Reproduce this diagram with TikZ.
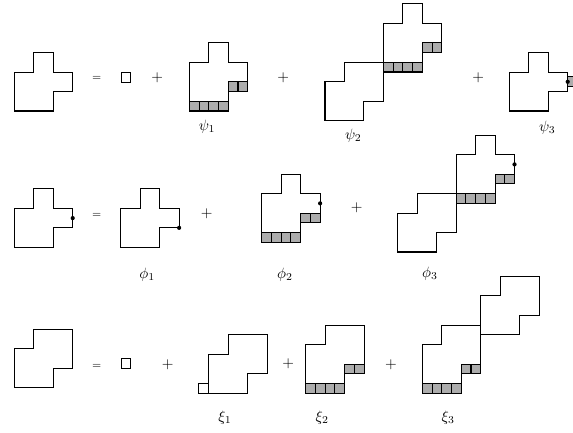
\documentclass[tikz,border=0pt]{standalone}
\usepackage{amsmath,amssymb}
\usepackage{tikz}
\usetikzlibrary{calc}

\newcommand{\cellsz}{6.49pt} % 小方格边长

\tikzset{
  poly/.style={draw=black, line width=0.7pt},
  greycell/.style={draw=black, fill=gray!65, line width=0.7pt},
  unitgrid/.style={x=\cellsz, y=\cellsz},
  eqsign/.style={font=\scriptsize, inner sep=0pt},
  opsign/.style={inner sep=0pt},
  pics/onecell/.style={code={\draw[poly, unitgrid] (0,0) rectangle (1,1);}},
  pics/crossbox/.style={code={
    \draw[poly, unitgrid] (0,0) -- (4,0) -- (4,2) -- (6,2) -- (6,4) -- (4,4) -- (4,6) -- (2,6) -- (2,4) -- (0,4) -- cycle;}},
  pics/stairbox/.style={code={
    \draw[poly, unitgrid] (0,0) -- (4,0) -- (4,2) -- (6,2) -- (6,6) -- (2,6) -- (2,4) -- (0,4) -- cycle;}},
  pics/greystrip/.style={code={
    \foreach \i in {0,...,3} \draw[greycell, unitgrid] (\i,0) rectangle ++(1,1);
    \foreach \i in {4,5} \draw[greycell, unitgrid] (\i,2) rectangle ++(1,1);}},
  pics/psibox/.style={code={\pic at (0pt,\cellsz) {crossbox}; \pic {greystrip};}},
  pics/xibox/.style={code={\pic at (0pt,\cellsz) {stairbox}; \pic {greystrip};}},
}

\begin{document}
\begin{tikzpicture}[x=0.6667pt, y=-0.6667pt]
  \useasboundingbox (0,0) rectangle (573,433);

  % 第一行
  \coordinate (lhsA) at (14.3,111);
  \pic at (lhsA) {crossbox};
  \node[eqsign] (eqA) at (96.7,78) {$=$};
  \pic at (121.1,82.4) {onecell};
  \node[opsign] (plusA1) at (157.3,77.7) {$+$};
  \coordinate (psiA) at (189.3,111);
  \pic at (psiA) {psibox};
  \node (lpsi1) at (207,126.7) {$\psi_1$};
  \node[opsign] (plusA2) at (283.3,77.7) {$+$};
  \coordinate (psiB) at (325,120.7);
  \pic at (psiB) {stairbox};
  \pic at ([shift={(6*\cellsz,5*\cellsz)}]psiB) {psibox}; % 右上方拼接
  \node (lpsi2) at (353.3,136) {$\psi_2$};
  \node[opsign] (plusA3) at (478.3,77.3) {$+$};
  \coordinate (psiC) at (509.3,111);
  \pic at (psiC) {crossbox};
  \draw[greycell, unitgrid] ([shift={(6*\cellsz,2.5*\cellsz)}]psiC) rectangle ++(1,1);
  \fill ([shift={(6*\cellsz,3*\cellsz)}]psiC) circle (1.4pt);
  \node (lpsi3) at (547.3,127.7) {$\psi_3$};

  % 第二行
  \coordinate (lhsB) at (14.3,247.3);
  \pic at (lhsB) {crossbox};
  \fill ([shift={(6*\cellsz,3*\cellsz)}]lhsB) circle (1.4pt);
  \node[eqsign] (eqB) at (96.7,215) {$=$};
  \coordinate (phiA) at (120.7,247.3);
  \pic at (phiA) {crossbox};
  \fill ([shift={(6*\cellsz,2*\cellsz)}]phiA) circle (1.4pt);
  \node (lphi1) at (147.3,274.3) {$\phi_1$};
  \node[opsign] (plusB1) at (206.7,213.3) {$+$};
  \coordinate (phiB) at (261.7,242.3);
  \pic at (phiB) {psibox};
  \fill ([shift={(6*\cellsz,4*\cellsz)}]phiB) circle (1.4pt);
  \node (lphi2) at (285,275) {$\phi_2$};
  \node[opsign] (plusB2) at (356.7,207.7) {$+$};
  \coordinate (phiC) at (397.7,252);
  \pic at (phiC) {stairbox};
  \coordinate (phiCup) at ([shift={(6*\cellsz,5*\cellsz)}]phiC);
  \pic at (phiCup) {psibox};
  \fill ([shift={(6*\cellsz,4*\cellsz)}]phiCup) circle (1.4pt);
  \node (lphi3) at (430,273.3) {$\phi_3$};

  % 第三行
  \coordinate (lhsC) at (14.3,387.7);
  \pic at (lhsC) {stairbox};
  \node[eqsign] (eqC) at (96.7,366) {$=$};
  \pic at (121.1,368.6) {onecell};
  \node[opsign] (plusC1) at (167.7,364.3) {$+$};
  \coordinate (xiA) at (208.7,393.3);
  \pic at (xiA) {stairbox};
  \pic at ([shift={(-1*\cellsz,0pt)}]xiA) {onecell};
  \node (lxi1) at (225,417.7) {$\xi_1$};
  \node[opsign] (plusC2) at (288.3,364) {$+$};
  \coordinate (xiB) at (305.7,393.3);
  \pic at (xiB) {xibox};
  \node (lxi2) at (322.3,417.7) {$\xi_2$};
  \node[opsign] (plusC3) at (391,364.3) {$+$};
  \coordinate (xiC) at (422.3,393.3);
  \pic at (xiC) {xibox};
  \pic at ([shift={(6*\cellsz,6*\cellsz)}]xiC) {stairbox};
  \node (lxi3) at (448.3,417.7) {$\xi_3$};
\end{tikzpicture}
\end{document}
